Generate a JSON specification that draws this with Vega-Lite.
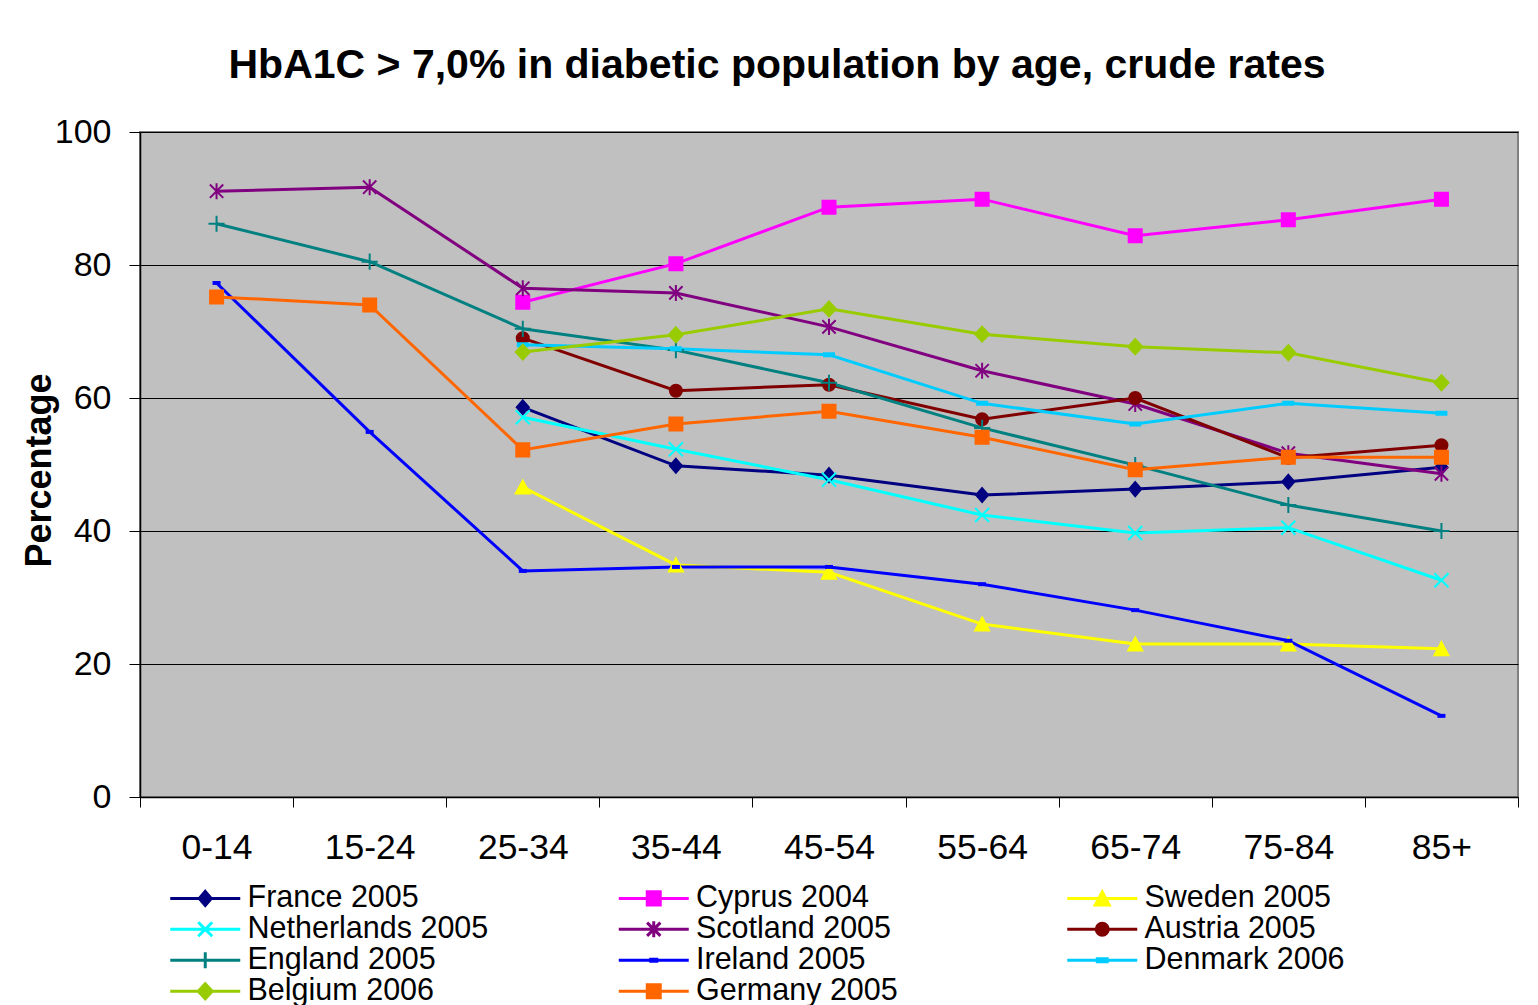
{
  "$schema": "https://vega.github.io/schema/vega-lite/v6.json",
  "autosize": "none",
  "width": 1378,
  "height": 665,
  "padding": {"left": 140, "top": 132, "right": 20, "bottom": 208},
  "background": "white",
  "title": {
    "text": "HbA1C > 7,0% in diabetic population by age, crude rates",
    "font": "Liberation Sans",
    "fontSize": 41,
    "fontWeight": "bold",
    "color": "black",
    "anchor": "middle",
    "frame": "group",
    "dx": -52,
    "baseline": "alphabetic",
    "offset": -4
  },
  "config": {
    "view": {"fill": "#C0C0C0", "stroke": "#808080", "strokeWidth": 2},
    "axis": {"labelFont": "Liberation Sans", "titleFont": "Liberation Sans", "labelColor": "black", "titleColor": "black", "domainColor": "black", "tickColor": "black"}
  },
  "data": {
    "values": [
      {"age": "25-34", "series": "France 2005", "value": 58.6},
      {"age": "35-44", "series": "France 2005", "value": 49.8},
      {"age": "45-54", "series": "France 2005", "value": 48.4},
      {"age": "55-64", "series": "France 2005", "value": 45.4},
      {"age": "65-74", "series": "France 2005", "value": 46.3},
      {"age": "75-84", "series": "France 2005", "value": 47.4},
      {"age": "85+", "series": "France 2005", "value": 49.6},
      {"age": "25-34", "series": "Cyprus 2004", "value": 74.4},
      {"age": "35-44", "series": "Cyprus 2004", "value": 80.2},
      {"age": "45-54", "series": "Cyprus 2004", "value": 88.7},
      {"age": "55-64", "series": "Cyprus 2004", "value": 89.9},
      {"age": "65-74", "series": "Cyprus 2004", "value": 84.4},
      {"age": "75-84", "series": "Cyprus 2004", "value": 86.8},
      {"age": "85+", "series": "Cyprus 2004", "value": 89.9},
      {"age": "25-34", "series": "Sweden 2005", "value": 46.6},
      {"age": "35-44", "series": "Sweden 2005", "value": 34.9},
      {"age": "45-54", "series": "Sweden 2005", "value": 33.8},
      {"age": "55-64", "series": "Sweden 2005", "value": 26.0},
      {"age": "65-74", "series": "Sweden 2005", "value": 23.0},
      {"age": "75-84", "series": "Sweden 2005", "value": 23.0},
      {"age": "85+", "series": "Sweden 2005", "value": 22.3},
      {"age": "25-34", "series": "Netherlands 2005", "value": 57.1},
      {"age": "35-44", "series": "Netherlands 2005", "value": 52.3},
      {"age": "45-54", "series": "Netherlands 2005", "value": 47.7},
      {"age": "55-64", "series": "Netherlands 2005", "value": 42.4},
      {"age": "65-74", "series": "Netherlands 2005", "value": 39.7},
      {"age": "75-84", "series": "Netherlands 2005", "value": 40.5},
      {"age": "85+", "series": "Netherlands 2005", "value": 32.6},
      {"age": "0-14", "series": "Scotland 2005", "value": 91.1},
      {"age": "15-24", "series": "Scotland 2005", "value": 91.7},
      {"age": "25-34", "series": "Scotland 2005", "value": 76.5},
      {"age": "35-44", "series": "Scotland 2005", "value": 75.8},
      {"age": "45-54", "series": "Scotland 2005", "value": 70.7},
      {"age": "55-64", "series": "Scotland 2005", "value": 64.1},
      {"age": "65-74", "series": "Scotland 2005", "value": 59.1},
      {"age": "75-84", "series": "Scotland 2005", "value": 51.7},
      {"age": "85+", "series": "Scotland 2005", "value": 48.6},
      {"age": "25-34", "series": "Austria 2005", "value": 69.0},
      {"age": "35-44", "series": "Austria 2005", "value": 61.1},
      {"age": "45-54", "series": "Austria 2005", "value": 62.0},
      {"age": "55-64", "series": "Austria 2005", "value": 56.8},
      {"age": "65-74", "series": "Austria 2005", "value": 60.0},
      {"age": "75-84", "series": "Austria 2005", "value": 51.0},
      {"age": "85+", "series": "Austria 2005", "value": 52.9},
      {"age": "0-14", "series": "England 2005", "value": 86.2},
      {"age": "15-24", "series": "England 2005", "value": 80.5},
      {"age": "25-34", "series": "England 2005", "value": 70.4},
      {"age": "35-44", "series": "England 2005", "value": 67.2},
      {"age": "45-54", "series": "England 2005", "value": 62.3},
      {"age": "55-64", "series": "England 2005", "value": 55.5},
      {"age": "65-74", "series": "England 2005", "value": 49.9},
      {"age": "75-84", "series": "England 2005", "value": 43.9},
      {"age": "85+", "series": "England 2005", "value": 40.0},
      {"age": "0-14", "series": "Ireland 2005", "value": 77.3},
      {"age": "15-24", "series": "Ireland 2005", "value": 54.9},
      {"age": "25-34", "series": "Ireland 2005", "value": 34.0},
      {"age": "35-44", "series": "Ireland 2005", "value": 34.6},
      {"age": "45-54", "series": "Ireland 2005", "value": 34.6},
      {"age": "55-64", "series": "Ireland 2005", "value": 32.0},
      {"age": "65-74", "series": "Ireland 2005", "value": 28.1},
      {"age": "75-84", "series": "Ireland 2005", "value": 23.5},
      {"age": "85+", "series": "Ireland 2005", "value": 12.2},
      {"age": "25-34", "series": "Denmark 2006", "value": 68.0},
      {"age": "35-44", "series": "Denmark 2006", "value": 67.4},
      {"age": "45-54", "series": "Denmark 2006", "value": 66.5},
      {"age": "55-64", "series": "Denmark 2006", "value": 59.2},
      {"age": "65-74", "series": "Denmark 2006", "value": 56.1},
      {"age": "75-84", "series": "Denmark 2006", "value": 59.2},
      {"age": "85+", "series": "Denmark 2006", "value": 57.7},
      {"age": "25-34", "series": "Belgium 2006", "value": 66.9},
      {"age": "35-44", "series": "Belgium 2006", "value": 69.5},
      {"age": "45-54", "series": "Belgium 2006", "value": 73.4},
      {"age": "55-64", "series": "Belgium 2006", "value": 69.6},
      {"age": "65-74", "series": "Belgium 2006", "value": 67.7},
      {"age": "75-84", "series": "Belgium 2006", "value": 66.8},
      {"age": "85+", "series": "Belgium 2006", "value": 62.3},
      {"age": "0-14", "series": "Germany 2005", "value": 75.2},
      {"age": "15-24", "series": "Germany 2005", "value": 74.0},
      {"age": "25-34", "series": "Germany 2005", "value": 52.2},
      {"age": "35-44", "series": "Germany 2005", "value": 56.1},
      {"age": "45-54", "series": "Germany 2005", "value": 58.0},
      {"age": "55-64", "series": "Germany 2005", "value": 54.1},
      {"age": "65-74", "series": "Germany 2005", "value": 49.2},
      {"age": "75-84", "series": "Germany 2005", "value": 51.1},
      {"age": "85+", "series": "Germany 2005", "value": 51.1}
    ]
  },
  "encoding": {
    "x": {
      "field": "age",
      "type": "ordinal",
      "sort": ["0-14", "15-24", "25-34", "35-44", "45-54", "55-64", "65-74", "75-84", "85+"],
      "scale": {"type": "band", "paddingInner": 0, "paddingOuter": 0},
      "axis": {
        "title": null,
        "labelAngle": 0,
        "labelFontSize": 35.5,
        "labelBaseline": "top",
        "labelPadding": 23,
        "tickSize": 10,
        "tickBand": "extent",
        "domainWidth": 1.5,
        "grid": false
      }
    },
    "y": {
      "field": "value",
      "type": "quantitative",
      "scale": {"domain": [0, 100], "nice": false},
      "axis": {
        "title": "Percentage",
        "titleFontSize": 36,
        "titleFontWeight": "bold",
        "titleAngle": -90,
        "titleBaseline": "alphabetic",
        "titleAlign": "center",
        "titleX": -90,
        "titleY": 338,
        "values": [0, 20, 40, 60, 80, 100],
        "labelFontSize": 34,
        "labelPadding": 18,
        "tickSize": 11,
        "grid": true,
        "gridColor": "black",
        "gridWidth": 1,
        "gridOpacity": 1,
        "domainWidth": 1.5
      }
    }
  },
  "resolve": {"scale": {"color": "independent", "fill": "independent", "stroke": "independent", "shape": "independent"}},
  "layer": [
    {
      "mark": {"type": "line", "strokeWidth": 3},
      "encoding": {
        "color": {
          "field": "series",
          "type": "nominal",
          "legend": null,
          "scale": {
            "domain": ["France 2005", "Cyprus 2004", "Sweden 2005", "Netherlands 2005", "Scotland 2005", "Austria 2005", "England 2005", "Ireland 2005", "Denmark 2006", "Belgium 2006", "Germany 2005"],
            "range": ["#000080", "#FF00FF", "#FFFF00", "#00FFFF", "#800080", "#800000", "#008080", "#0000FF", "#00CCFF", "#99CC00", "#FF6600"]
          }
        }
      }
    },
    {
      "mark": {"type": "point", "filled": true, "size": 196, "strokeWidth": 2, "opacity": 1},
      "encoding": {
        "fill": {
          "field": "series", "type": "nominal", "legend": null,
          "scale": {
            "domain": ["France 2005", "Cyprus 2004", "Sweden 2005", "Netherlands 2005", "Scotland 2005", "Austria 2005", "England 2005", "Ireland 2005", "Denmark 2006", "Belgium 2006", "Germany 2005"],
            "range": ["#000080", "#FF00FF", "#FFFF00", "#00FFFF", "#800080", "#800000", "#008080", "#0000FF", "#00CCFF", "#99CC00", "#FF6600"]
          }
        },
        "stroke": {
          "field": "series", "type": "nominal", "legend": null,
          "scale": {
            "domain": ["France 2005", "Cyprus 2004", "Sweden 2005", "Netherlands 2005", "Scotland 2005", "Austria 2005", "England 2005", "Ireland 2005", "Denmark 2006", "Belgium 2006", "Germany 2005"],
            "range": ["#000080", "#FF00FF", "#FFFF00", "#00FFFF", "#800080", "#800000", "#008080", "#0000FF", "#00CCFF", "#99CC00", "#FF6600"]
          }
        },
        "shape": {
          "field": "series", "type": "nominal", "legend": null,
          "scale": {
            "domain": ["France 2005", "Cyprus 2004", "Sweden 2005", "Netherlands 2005", "Scotland 2005", "Austria 2005", "England 2005", "Ireland 2005", "Denmark 2006", "Belgium 2006", "Germany 2005"],
            "range": [
              "M0,-1L0.86,0L0,1L-0.86,0Z",
              "M-0.93,-0.93L0.93,-0.93L0.93,0.93L-0.93,0.93Z",
              "M0,-0.93L1,0.93L-1,0.93Z",
              "M-1,-1L1,1M-1,1L1,-1",
              "M-0.95,-0.95L0.95,0.95M-0.95,0.95L0.95,-0.95M0,-1.15L0,1.15",
              "M-0.86,0A0.86,0.86,0,1,0,0.86,0A0.86,0.86,0,1,0,-0.86,0Z",
              "M-1.15,0L1.15,0M0,-1.15L0,1.15",
              "M-0.43,-0.14L0.43,-0.14L0.43,0.14L-0.43,0.14Z",
              "M-0.71,-0.21L0.71,-0.21L0.71,0.21L-0.71,0.21Z",
              "M0,-1.07L1,0L0,1.07L-1,0Z",
              "M-0.93,-0.93L0.93,-0.93L0.93,0.93L-0.93,0.93Z"
            ]
          }
        }
      }
    },
    {
      "mark": {"type": "point", "filled": true, "size": 196, "strokeWidth": 3, "opacity": 1, "clip": true},
      "encoding": {
        "y": {"datum": -50, "type": "quantitative"},
        "fill": {
          "field": "series", "type": "nominal",
          "scale": {
            "domain": ["France 2005", "Cyprus 2004", "Sweden 2005", "Netherlands 2005", "Scotland 2005", "Austria 2005", "England 2005", "Ireland 2005", "Denmark 2006", "Belgium 2006", "Germany 2005"],
            "range": ["#000080", "#FF00FF", "#FFFF00", "#00FFFF", "#800080", "#800000", "#008080", "#0000FF", "#00CCFF", "#99CC00", "#FF6600"]
          },
          "legend": {
            "title": null,
            "orient": "none",
            "legendX": 50,
            "legendY": 751,
            "columns": 3,
            "direction": "horizontal",
            "gridAlign": "all",
            "columnPadding": 123.5,
            "rowPadding": 0,
            "padding": 0,
            "symbolSize": 196,
            "symbolStrokeWidth": 3,
            "symbolOpacity": 1,
            "labelOffset": 27,
            "labelFont": "Liberation Sans",
            "labelFontSize": 30.5,
            "labelColor": "black",
            "labelLimit": 0
          }
        },
        "stroke": {
          "field": "series", "type": "nominal",
          "scale": {
            "domain": ["France 2005", "Cyprus 2004", "Sweden 2005", "Netherlands 2005", "Scotland 2005", "Austria 2005", "England 2005", "Ireland 2005", "Denmark 2006", "Belgium 2006", "Germany 2005"],
            "range": ["#000080", "#FF00FF", "#FFFF00", "#00FFFF", "#800080", "#800000", "#008080", "#0000FF", "#00CCFF", "#99CC00", "#FF6600"]
          },
          "legend": {
            "title": null,
            "orient": "none",
            "legendX": 50,
            "legendY": 751,
            "columns": 3,
            "direction": "horizontal",
            "gridAlign": "all",
            "columnPadding": 123.5,
            "rowPadding": 0,
            "padding": 0,
            "symbolSize": 196,
            "symbolStrokeWidth": 3,
            "symbolOpacity": 1,
            "labelOffset": 27,
            "labelFont": "Liberation Sans",
            "labelFontSize": 30.5,
            "labelColor": "black",
            "labelLimit": 0
          }
        },
        "shape": {
          "field": "series", "type": "nominal",
          "scale": {
            "domain": ["France 2005", "Cyprus 2004", "Sweden 2005", "Netherlands 2005", "Scotland 2005", "Austria 2005", "England 2005", "Ireland 2005", "Denmark 2006", "Belgium 2006", "Germany 2005"],
            "range": [
              "M-5,0L5,0M0,-1L0.86,0L0,1L-0.86,0Z",
              "M-5,0L5,0M-0.93,-0.93L0.93,-0.93L0.93,0.93L-0.93,0.93Z",
              "M-5,0L5,0M0,-0.93L1,0.93L-1,0.93Z",
              "M-5,0L5,0M-1,-1L1,1M-1,1L1,-1",
              "M-5,0L5,0M-0.95,-0.95L0.95,0.95M-0.95,0.95L0.95,-0.95M0,-1.15L0,1.15",
              "M-5,0L5,0M-0.86,0A0.86,0.86,0,1,0,0.86,0A0.86,0.86,0,1,0,-0.86,0Z",
              "M-5,0L5,0M-1.15,0L1.15,0M0,-1.15L0,1.15",
              "M-5,0L5,0M-0.43,-0.14L0.43,-0.14L0.43,0.14L-0.43,0.14Z",
              "M-5,0L5,0M-0.71,-0.21L0.71,-0.21L0.71,0.21L-0.71,0.21Z",
              "M-5,0L5,0M0,-1.07L1,0L0,1.07L-1,0Z",
              "M-5,0L5,0M-0.93,-0.93L0.93,-0.93L0.93,0.93L-0.93,0.93Z"
            ]
          },
          "legend": {
            "title": null,
            "orient": "none",
            "legendX": 50,
            "legendY": 751,
            "columns": 3,
            "direction": "horizontal",
            "gridAlign": "all",
            "columnPadding": 123.5,
            "rowPadding": 0,
            "padding": 0,
            "symbolSize": 196,
            "symbolStrokeWidth": 3,
            "symbolOpacity": 1,
            "labelOffset": 27,
            "labelFont": "Liberation Sans",
            "labelFontSize": 30.5,
            "labelColor": "black",
            "labelLimit": 0
          }
        }
      }
    }
  ]
}
